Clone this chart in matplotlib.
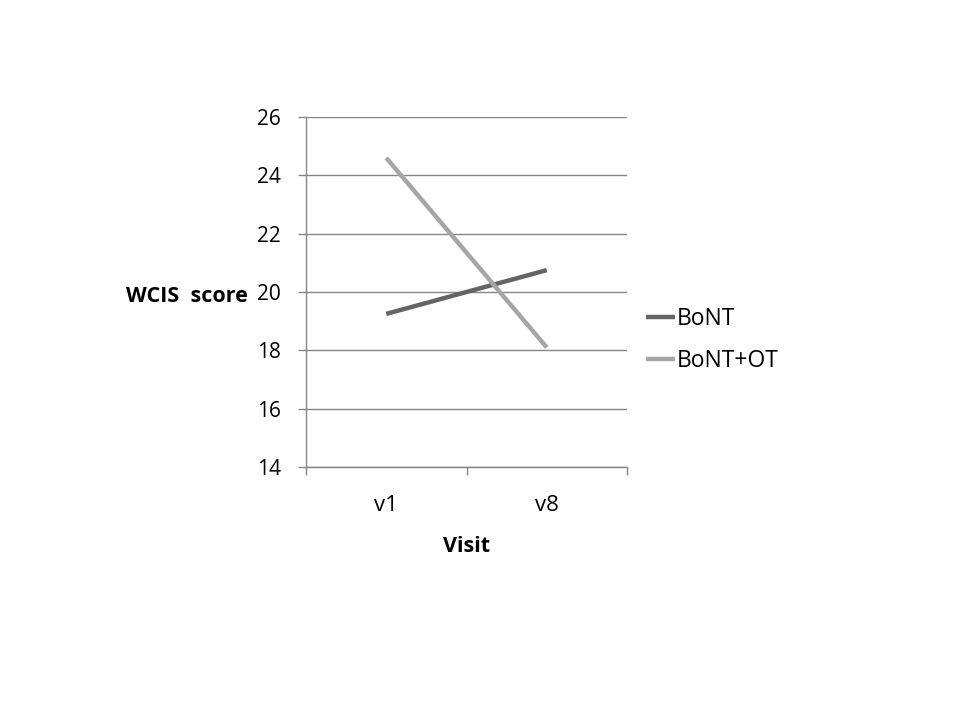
import matplotlib.pyplot as plt
import numpy as np

plt.rcParams['font.family'] = ['Open Sans', 'DejaVu Sans']

visits = ["v1", "v8"]
bont = [19.25, 20.75]
bont_ot = [24.6, 18.1]
yticks = [14, 16, 18, 20, 22, 24, 26]

grid_c = '#868686'

fig = plt.figure(figsize=(9.6, 7.2), dpi=100)
ax = fig.add_axes([306/960, 1-467/720, 321/960, 350/720])

x = np.arange(len(visits))
ax.plot(x, bont, color='#646464', lw=3.2, label='BoNT', solid_capstyle='butt')
ax.plot(x, bont_ot, color='#a6a6a6', lw=3.2, label='BoNT+OT', solid_capstyle='butt')

ax.set_xlim(-0.5, len(visits) - 0.5)
ax.set_ylim(14, 26)
ax.set_yticks(yticks)
ax.set_yticklabels([str(v) for v in yticks], fontsize=15)
ax.set_xticks(x)
ax.set_xticklabels(visits, fontsize=16)
ax.set_xticks(np.arange(-0.5, len(visits), 1.0), minor=True)
ax.tick_params(axis='x', which='major', length=0, pad=20)
ax.tick_params(axis='x', which='minor', length=6, color=grid_c, width=1)
ax.tick_params(axis='y', length=6, color=grid_c, width=1, pad=12)
ax.grid(axis='y', color=grid_c, lw=1)
ax.set_axisbelow(True)
for s in ['top', 'right']:
    ax.spines[s].set_visible(False)
for s in ['left', 'bottom']:
    ax.spines[s].set_color(grid_c)
    ax.spines[s].set_linewidth(1)

fig.text(248/960, 1-296/720, 'WCIS  score', ha='right', va='center',
         fontsize=15.5, fontweight='bold')
fig.text(467/960, 1-547/720, 'Visit', ha='center', va='center',
         fontsize=15.5, fontweight='bold')

ax.legend(loc='center left', bbox_to_anchor=(625/960, 1-340/720),
          bbox_transform=fig.transFigure, frameon=False, fontsize=16.5,
          handlelength=1.3, handletextpad=0.05, labelspacing=0.75)

fig.savefig('out.png', dpi=100)
